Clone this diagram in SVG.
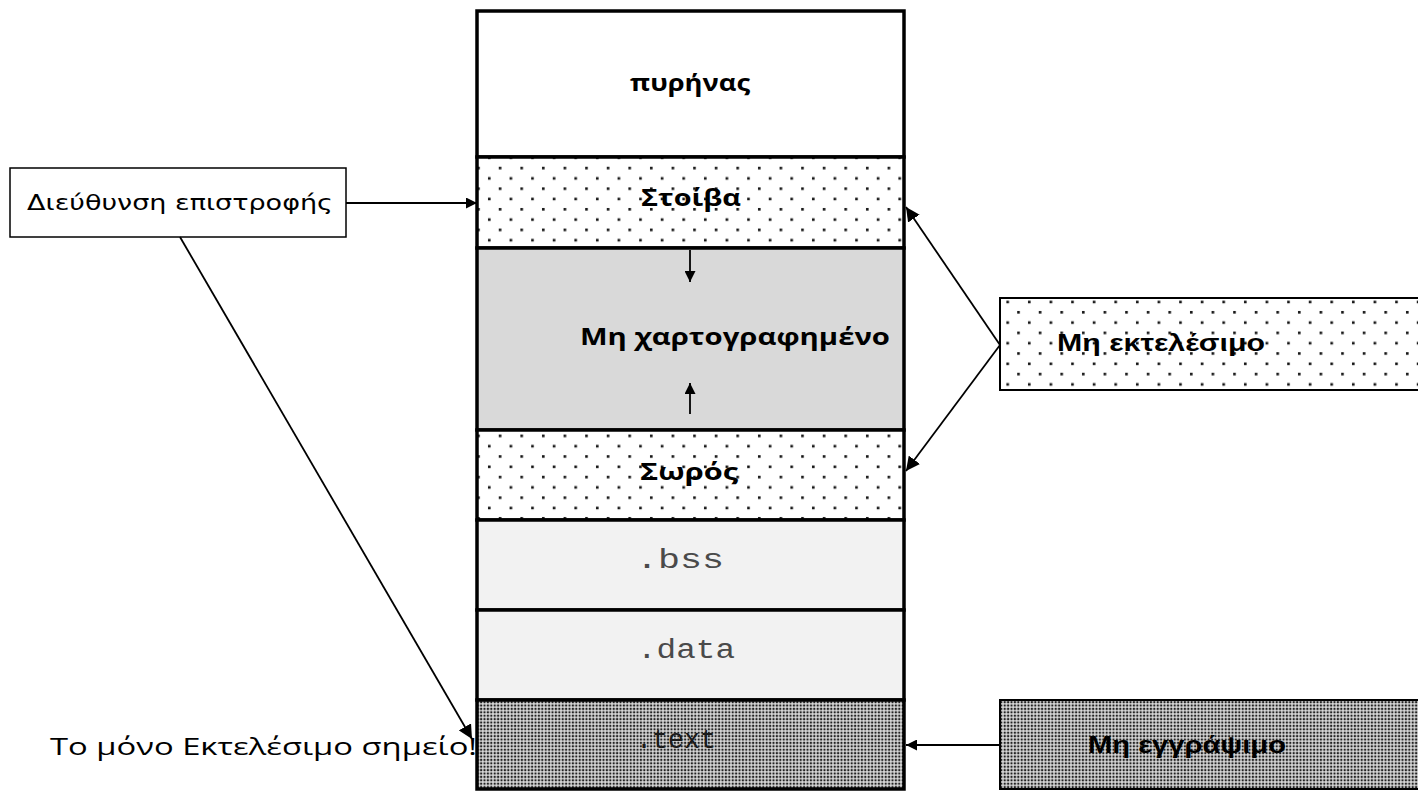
<svg xmlns="http://www.w3.org/2000/svg" width="1418" height="791" viewBox="0 0 1418 791">
<defs>
<pattern id="dots" width="21.6" height="20.6" patternUnits="userSpaceOnUse">
<rect width="21.6" height="20.6" fill="#fff"/>
<rect x="2" y="2" width="2.6" height="2.6" fill="#111"/>
<rect x="12.8" y="12.3" width="2.6" height="2.6" fill="#111"/>
</pattern>
<pattern id="dense" width="3.4" height="3.4" patternUnits="userSpaceOnUse">
<rect width="3.4" height="3.4" fill="#e8e8e8"/>
<rect x="0.6" y="0.6" width="2.2" height="2.2" fill="#222"/>
</pattern>
<marker id="ah" viewBox="0 0 10 10" refX="10" refY="5" markerWidth="11" markerHeight="11" markerUnits="userSpaceOnUse" orient="auto">
<path d="M0,0 L10,5 L0,10 z" fill="#000"/>
</marker>
<marker id="ahl" viewBox="0 0 10 10" refX="10" refY="5" markerWidth="14" markerHeight="14" markerUnits="userSpaceOnUse" orient="auto">
<path d="M0,0 L10,5 L0,10 z" fill="#000"/>
</marker>
</defs>
<style>
.seg{stroke:#000;stroke-width:3.5}
.lbl{font-family:"Open Sans","Liberation Sans",sans-serif;font-weight:bold;font-size:24px;fill:#000}
.mono{font-family:"Liberation Mono","Courier New",monospace;font-size:27px;fill:#4a4a4a}
.conn{stroke:#000;stroke-width:1.8;fill:none}
.side{font-family:"Liberation Sans",Arial,sans-serif;font-weight:bold;font-size:24px;fill:#000}
</style>
<rect width="1418" height="791" fill="#fff"/>

<g id="kernel">
<rect x="477" y="11" width="427" height="146" fill="#fff" class="seg"/>
<text x="630" y="91" class="lbl" textLength="120" lengthAdjust="spacingAndGlyphs">πυρήνας</text>
</g>
<g id="stack">
<rect x="477" y="157" width="427" height="91" fill="url(#dots)" class="seg"/>
<text x="641" y="206" class="lbl" textLength="100" lengthAdjust="spacingAndGlyphs">Στοίβα</text>
</g>
<g id="unmapped">
<rect x="477" y="248" width="427" height="182" fill="#d9d9d9" class="seg"/>
<text x="580" y="345" class="lbl" textLength="310" lengthAdjust="spacingAndGlyphs">Μη χαρτογραφημένο</text>
</g>
<g id="heap">
<rect x="477" y="430" width="427" height="90" fill="url(#dots)" class="seg"/>
<text x="640" y="480" class="lbl" textLength="98" lengthAdjust="spacingAndGlyphs">Σωρός</text>
</g>
<g id="bss">
<rect x="477" y="520" width="427" height="90" fill="#f2f2f2" class="seg"/>
<text x="636" y="568" class="mono" textLength="88" lengthAdjust="spacingAndGlyphs">.bss</text>
</g>
<g id="data">
<rect x="477" y="610" width="427" height="90" fill="#f2f2f2" class="seg"/>
<text x="637" y="658" class="mono" textLength="98" lengthAdjust="spacingAndGlyphs">.data</text>
</g>
<g id="text">
<rect x="477" y="700" width="427" height="89" fill="url(#dense)" class="seg"/>
<text x="636" y="748" class="mono" fill="#1a1a1a" style="fill:#1a1a1a" textLength="80" lengthAdjust="spacingAndGlyphs">.text</text>
</g>

<g id="retaddr">
<rect x="10" y="168" width="336" height="69" fill="#fff" stroke="#000" stroke-width="1.5"/>
<text x="27" y="210" font-family="DejaVu Sans,Verdana,sans-serif" font-size="22" fill="#000" textLength="306" lengthAdjust="spacingAndGlyphs">Διεύθυνση επιστροφής</text>
</g>
<g id="only-exec">
<text x="50" y="755" font-family="Open Sans,Liberation Sans,sans-serif" font-size="24" fill="#000" textLength="427" lengthAdjust="spacingAndGlyphs">Το μόνο Εκτελέσιμο σημείο!</text>
</g>
<g id="nonexec">
<rect x="1000" y="298" width="430" height="92" fill="url(#dots)" stroke="#000" stroke-width="2"/>
<text x="1057" y="351" class="side" textLength="208" lengthAdjust="spacingAndGlyphs">Μη εκτελέσιμο</text>
</g>
<g id="nonwrite">
<rect x="1000" y="700" width="430" height="89" fill="url(#dense)" stroke="#000" stroke-width="2"/>
<text x="1088" y="753" class="side" textLength="198" lengthAdjust="spacingAndGlyphs">Μη εγγράψιμο</text>
</g>

<g id="connectors">
<line x1="346" y1="203" x2="477" y2="203" class="conn" marker-end="url(#ah)"/>
<line x1="180" y1="237" x2="472" y2="739" class="conn" marker-end="url(#ahl)"/>
<line x1="1000" y1="345" x2="906" y2="207" class="conn" marker-end="url(#ahl)"/>
<line x1="1000" y1="345" x2="906" y2="471" class="conn" marker-end="url(#ahl)"/>
<line x1="1000" y1="745" x2="906" y2="745" class="conn" marker-end="url(#ah)"/>
<line x1="690" y1="250" x2="690" y2="282" class="conn" marker-end="url(#ah)"/>
<line x1="690" y1="414" x2="690" y2="383" class="conn" marker-end="url(#ah)"/>
</g>
</svg>
